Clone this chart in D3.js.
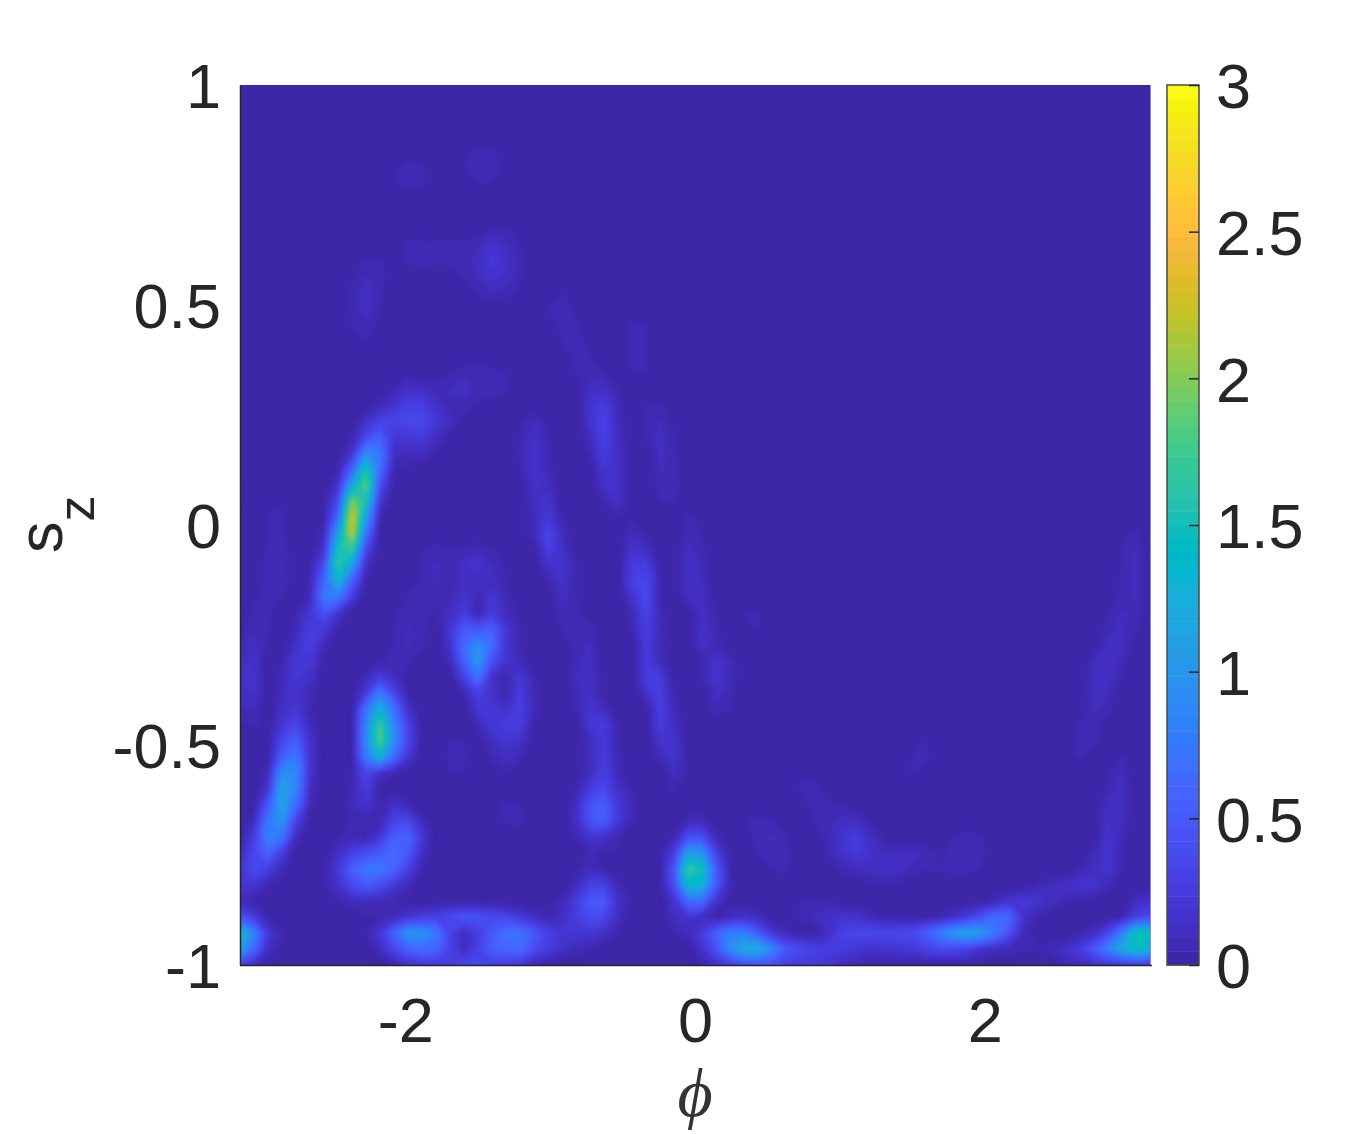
<!DOCTYPE html>
<html>
<head>
<meta charset="utf-8">
<script src="https://cdn.jsdelivr.net/npm/d3@7/dist/d3.min.js"></script>
<style>
html,body{margin:0;padding:0;background:#fff;}
svg{display:block;}
text{font-family:"Liberation Sans",Arial,sans-serif;fill:#262626;}
</style>
</head>
<body>
<svg id="chart" width="1360" height="1134"></svg>
<script>
// Axis ticks
const phiTicks = [-2, 0, 2];
const szTicks = [-1, -0.5, 0, 0.5, 1];
const colorTicks = [0, 0.5, 1, 1.5, 2, 2.5, 3];
const colorMax = 3;
const gridCols = 66;
const gridRows = 56;

// Parula colormap (64 levels)
const parula = [
[.2422,.1504,.6603],[.2504,.1650,.7076],[.2578,.1818,.7511],[.2647,.1978,.7952],[.2706,.2147,.8364],[.2751,.2342,.8710],[.2783,.2559,.8991],[.2803,.2782,.9221],
[.2813,.3006,.9414],[.2810,.3228,.9579],[.2795,.3447,.9717],[.2760,.3667,.9829],[.2699,.3892,.9906],[.2602,.4123,.9952],[.2440,.4358,.9988],[.2206,.4603,.9973],
[.1963,.4847,.9892],[.1834,.5074,.9798],[.1786,.5289,.9682],[.1764,.5499,.9520],[.1687,.5703,.9359],[.1540,.5902,.9218],[.1460,.6091,.9079],[.1380,.6276,.8973],
[.1248,.6459,.8883],[.1113,.6635,.8763],[.0952,.6798,.8598],[.0689,.6948,.8394],[.0297,.7082,.8163],[.0036,.7203,.7917],[.0067,.7312,.7660],[.0433,.7411,.7394],
[.0964,.7500,.7120],[.1408,.7584,.6842],[.1717,.7670,.6554],[.1938,.7758,.6251],[.2161,.7843,.5923],[.2470,.7918,.5567],[.2906,.7973,.5188],[.3406,.8008,.4789],
[.3909,.8029,.4354],[.4456,.8024,.3909],[.5044,.7993,.3480],[.5616,.7942,.3045],[.6174,.7876,.2612],[.6720,.7793,.2227],[.7242,.7698,.1910],[.7738,.7598,.1646],
[.8203,.7498,.1535],[.8634,.7406,.1596],[.9035,.7330,.1774],[.9393,.7288,.2100],[.9728,.7298,.2394],[.9956,.7434,.2371],[.9970,.7659,.2199],[.9952,.7861,.1996],
[.9892,.8077,.1817],[.9786,.8292,.1637],[.9676,.8515,.1473],[.9610,.8741,.1288],[.9597,.8969,.1113],[.9628,.9207,.0814],[.9691,.9469,.0538],[.9769,.9839,.0805]
].map(c => d3.rgb(c[0]*255, c[1]*255, c[2]*255).formatHex());

// Density, in hundredths; each row lists [firstColumn, values...] runs, everything else is ~0
const densityRuns = [
[],[],[],[],
[[17,5,5]],
[[12,7,5],[16,5,9,8,3]],
[[11,5,8,7],[17,5,5]],
[],[],
[[18,5,5]],
[[12,6,7,6,6,6,9,17,11,5]],
[[9,5,6],[12,6,7,6,6,7,12,22,15,7]],
[[8,4,10,7],[16,5,10,17,13,6]],
[[8,6,14,6],[17,6,9,7,3],[23,5]],
[[8,6,14,5],[22,5,7,4]],
[[8,5,9,3],[23,7,5],[28,6,5]],
[[9,5],[23,5,7,3],[28,6,5]],
[[24,7,5],[28,6,5]],
[[12,4],[15,5,8,9,7,5],[24,5,8,5],[28,4,5]],
[[11,6,14,12,8,10,13,8,8,6],[25,12,14,5]],
[[10,8,17,30,28,15,8,7,3,3],[25,17,25,8],[29,5,5]],
[[9,15,30,32,35,35,22,10,3],[20,3,10,3],[25,17,32,9],[29,6,10,3]],
[[8,5,35,55,20,22,25,12,3],[20,5,15,5],[25,10,30,11],[29,6,12,5]],
[[8,18,95,75,12,10,12,4],[20,6,18,6],[25,6,25,13],[30,12,6]],
[[7,5,55,155,65,5,3],[20,5,18,8],[26,20,13],[30,10,8]],
[[0,5],[7,15,115,190,40],[21,15,12],[26,15,15],[30,7,8]],
[[0,5],[2,4,4],[6,3,35,200,155,18],[21,12,18],[26,6,14],[30,5,6]],
[[2,5,6],[6,4,60,235,110,6],[21,8,22,5],[27,5,4],[32,6,4]],
[[2,5,6],[6,8,110,225,70],[21,10,32,10],[28,10,4],[32,8,4],[63,3,6]],
[[2,6,8],[6,15,150,175,35],[13,4,7,5,6,8,5],[22,30,15],[28,17,11],[32,12,6],[63,5,10]],
[[2,8,10],[5,4,40,170,110,12],[13,6,11,6,14,18,10,4],[22,15,18,5],[28,24,28],[32,15,8],[63,5,11]],
[[2,7,9],[5,6,60,130,55,4],[13,6,10,6,12,12,12,5],[22,5,16,5],[28,28,34,6],[32,14,10],[63,6,11]],
[[1,4,6,5],[5,8,75,80,25],[12,5,7,6,8,18,6,20,8],[23,12,5],[28,17,36,5],[32,12,12],[63,7,11]],
[[1,7,6],[4,5,20,45,18],[11,4,8,7,4,12,25,4,24,10,4],[23,8,7],[28,8,32,8],[33,12,5],[36,5,6],[62,5,10,8]],
[[0,3,9,6],[4,8,28,22,5],[11,5,10,7],[15,20,50,45,55,20,5],[23,5,10,8],[28,6,28,10],[33,14,7],[37,5],[62,8,11,5]],
[[0,6,12,4],[4,15,28,8],[11,5,10,6],[15,15,65,95,65,18,5],[24,8,10],[29,25,8],[33,15,8],[62,12,11,3]],
[[0,10,16],[3,5,22,22,3],[10,4,6,7],[15,8,55,105,40,18,10],[24,8,12],[29,25,10],[33,5,17,8],[61,9,14,8]],
[[0,15,16],[3,8,20,14],[9,8,25,12],[16,30,70,15,5,22,5],[24,10,14,3],[29,25,25],[33,6,18,10],[61,11,13,5]],
[[0,12,15],[3,10,18,8],[9,25,80,35,3],[16,5,30,15,4,25,8],[24,8,15],[29,15,28,5],[34,12,7],[61,11,10]],
[[0,8,10],[3,15,22,5],[9,70,130,70,15],[17,20,22,15,28,8],[24,5,18,12],[30,28,8],[34,8,5],[61,10,7]],
[[0,4,6],[3,20,35,10],[9,85,175,85,30],[17,8,22,25,25,5],[25,20,25,5],[30,28,12],[60,6,9]],
[[3,35,55,15],[9,90,185,90,32],[15,5,5],[18,12,20,15],[25,12,22,5],[30,18,18],[49,5],[60,7,6]],
[[3,55,75,18],[9,75,130,65,20],[15,6,6],[18,7,12,8],[25,10,25,8],[30,8,18,3],[48,5,6],[59,4,5],[63,6]],
[[2,10,95,90,15],[8,5,35,12,5],[15,5,5],[19,5],[25,12,28,8],[31,12,4],[40,4,4],[47,3,5],[62,4,10]],
[[2,20,115,85,10],[8,6,25,2,3],[24,5,25,35,15,4],[31,6],[40,6,7],[62,6,14]],
[[2,50,115,65,6],[8,10,18,5,15,8],[18,3,6,5],[24,12,45,55,20,8],[31,3],[41,8,7,5],[62,12,13]],
[[1,12,75,100,30],[8,5,5,5,32,35,10],[19,6,7],[24,12,45,55,22,6],[32,8,10],[36,4,7,6],[41,5,8,12,12,5],[62,15,10]],
[[1,25,85,70,10],[7,5,8,3,20,55,60,20],[24,6,18,15,6],[31,6,40,42,8],[37,8,10,5],[42,8,18,27,12,3],[51,5,7,5],[62,18,8]],
[[0,10,35,60,25],[7,12,30,40,50,65,50,12],[25,6,3,4],[30,3,28,110,100,30,3],[37,6,9,8],[42,6,15,24,16,10,10,12,9,4,6,8,6],[61,8,18,5]],
[[0,20,40,28,8],[6,5,22,55,75,75,60,30,5],[24,3,10,4],[31,45,170,150,50,5],[38,5,7],[43,6,10,12,14,12,8,5,5,7,7,4],[60,6,12,18,5]],
[[0,20,18,6],[6,5,15,38,50,40,22,10],[24,10,30,30,8],[31,40,140,130,50,6],[45,4,5,4],[57,6,10,14,18,18,8]],
[[0,8,4],[7,5,10,10,8,5],[23,8,25,50,50,15,4],[31,18,65,65,18,3],[40,5,6,5],[54,8,18,24,18,12,6,4],[64,12,15]],
[[0,45,25,5],[9,3,5,10,18,25,30,38,48,45,38,32,22,12,6,12,25,40,35,12],[31,12,18,12,2,10,15,10],[40,5,10,14,18,16,10,4,3,3,4,6,14,25,45,65,60,15,5],[63,5,28,38]],
[[0,140,85,22,6],[9,5,20,60,100,100,75,32,10,25,50,70,70,50,30,20,20,20,14,5],[31,5,10,25,55,80,80,50,20,8,3],[42,12,30,35,35,35,35,38,55,80,105,115,105,75,40,8],[60,4,12,35,85,150,150]],
[[0,110,60,12,3],[10,12,35,55,65,60,32,10,30,55,60,65,40,25,15,8,5],[33,15,45,95,125,125,90,50,38,30,25,25,20,15,18,20,22,30,35,35,28,15,10,8,5,5,8,15,25,50,85,120,145,130]],
[[0,25,10],[11,5,15,20,22,28,35,35,30,25,20,8],[33,5,15,25,35,40,40,30,25,25,20,10,8,3],[59,6,10,15,18,20,22,20]]
];

const density = new Float64Array(gridCols * gridRows);
densityRuns.forEach((runs, r) => runs.forEach(([c0, ...vals]) =>
  vals.forEach((v, k) => { density[r * gridCols + c0 + k] = v / 100; })));

const svg = d3.select("#chart");
const x = d3.scaleLinear().domain([-Math.PI, Math.PI]).range([240, 1150]);
const y = d3.scaleLinear().domain([-1, 1]).range([965, 85]);
const cy = d3.scaleLinear().domain([0, colorMax]).range([965, 85]);
const colPhi = d3.scaleLinear().domain([0.5, gridCols - 0.5]).range([-Math.PI, Math.PI]);
const rowSz = d3.scaleLinear().domain([0.5, gridRows - 0.5]).range([1, -1]);

const defs = svg.append("defs");
defs.append("clipPath").attr("id", "plot")
  .append("rect").attr("x", 240).attr("y", 85).attr("width", 910).attr("height", 880);
defs.append("filter").attr("id", "soft").attr("filterUnits", "userSpaceOnUse")
  .attr("x", 200).attr("y", 50).attr("width", 1000).attr("height", 960)
  .attr("color-interpolation-filters", "sRGB")
  .append("feGaussianBlur").attr("stdDeviation", 2.2);

const plot = svg.append("g").attr("clip-path", "url(#plot)");
plot.append("rect").attr("x", 240).attr("y", 85).attr("width", 910).attr("height", 880).attr("fill", parula[0]);

const levels = d3.range(1, parula.length).map(i => i * colorMax / parula.length);
const contours = d3.contours().size([gridCols, gridRows]).thresholds(levels)(density);
const toScreen = d3.geoPath(d3.geoTransform({
  point(a, b) { this.stream.point(x(colPhi(a)), y(rowSz(b))); }
}));
plot.append("g").attr("filter", "url(#soft)").selectAll("path").data(contours).join("path")
  .attr("d", toScreen)
  .attr("fill", (d, i) => parula[i + 1])
  .attr("stroke", (d, i) => parula[i + 1])
  .attr("stroke-width", 0.4);

// Axes
const fs = 63;
const gx = svg.append("g").attr("transform", "translate(0,965)")
  .call(d3.axisBottom(x).tickValues(phiTicks).tickSize(0).tickPadding(0).tickFormat(d => String(d)));
const gy = svg.append("g").attr("transform", "translate(240,0)")
  .call(d3.axisLeft(y).tickValues(szTicks).tickSize(0).tickPadding(0).tickFormat(d => String(d)));
[gx, gy].forEach(g => {
  g.select(".domain").attr("stroke", "#262626").attr("stroke-width", 1.5);
  g.selectAll("text").attr("font-size", fs).attr("font-family", "Liberation Sans").attr("fill", "#262626");
});
gx.select(".domain").attr("d", "M240,0.5H1152");
gx.selectAll("text").attr("y", 32).attr("dy", "0.71em");
gy.selectAll("text").attr("x", -19).attr("dy", "0.36em");
svg.append("line").attr("x1", 1150.5).attr("x2", 1150.5).attr("y1", 85).attr("y2", 965).attr("stroke", "#8f86e0").attr("stroke-width", 1);

// Colorbar
const band = (965 - 85) / parula.length;
svg.append("g").selectAll("rect").data(parula).join("rect")
  .attr("x", 1167).attr("width", 32)
  .attr("y", (d, i) => cy((i + 1) * colorMax / parula.length))
  .attr("height", band + 0.5)
  .attr("fill", d => d);
svg.append("rect").attr("x", 1167).attr("y", 85).attr("width", 32).attr("height", 880)
  .attr("fill", "none").attr("stroke", "#4a4a4a").attr("stroke-width", 1.5);
const gc = svg.append("g").attr("transform", "translate(1199,0)")
  .call(d3.axisRight(cy).tickValues(colorTicks).tickSize(-10).tickPadding(0).tickFormat(d => String(d)));
gc.select(".domain").remove();
gc.selectAll("line").attr("stroke", "#262626").attr("stroke-width", 1.5);
gc.selectAll("text").attr("x", 17).attr("dy", "0.36em").attr("font-size", fs).attr("font-family", "Liberation Sans").attr("fill", "#262626");

// Axis labels
svg.append("text").attr("text-anchor", "middle").attr("x", 695).attr("y", 1116)
  .attr("font-size", 68).attr("style", "font-family:'Liberation Serif';font-style:italic;fill:#333").text("\u03D5");
const yl = svg.append("text").attr("transform", "translate(62,553) rotate(-90)").attr("font-size", 63);
yl.append("tspan").text("s");
yl.append("tspan").attr("dy", 32).attr("dx", 0).attr("font-size", 52).text("z");
</script>
</body>
</html>
